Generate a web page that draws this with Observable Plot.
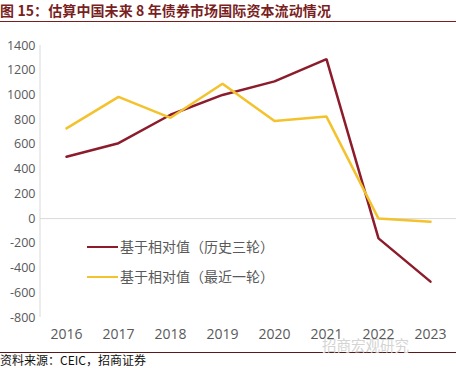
<!DOCTYPE html>
<html>
<head>
<meta charset="utf-8">
<script src="https://cdn.jsdelivr.net/npm/d3@7"></script>
<script src="https://cdn.jsdelivr.net/npm/@observablehq/plot@0.6"></script>
<style>
  html, body { margin: 0; padding: 0; background: #fff; }
  #wrap { position: relative; width: 456px; height: 368px; overflow: hidden; font-family: "Noto Sans CJK SC", sans-serif; }
  #title { height: 21px; border-bottom: 1px solid #7a1f1f; color: #7a1f1f; font-weight: 700; font-size: 14px; line-height: 21px; white-space: nowrap; letter-spacing: 0.1px; }
  #footer { border-top: 1.5px solid #5a1a1a; font-size: 12px; line-height: 14px; color: #111; white-space: nowrap; padding-top: 0; }
  .leg { position: absolute; left: 87px; font-size: 14px; color: #595959; white-space: nowrap; line-height: 16px; }
  .leg span.sw { display: inline-block; width: 31px; height: 2.5px; vertical-align: middle; margin-right: 2px; position: relative; top: -1px; }
  #wm { position: absolute; left: 322px; top: 337px; font-size: 14.5px; line-height: 15px; color: #d4d4d4; white-space: nowrap; }
</style>
</head>
<body>
<div id="wrap">
  <div id="title">图 15：估算中国未来 8 年债券市场国际资本流动情况</div>
  <div id="chart"></div>
  <div id="footer">资料来源：CEIC，招商证券</div>
  <div class="leg" id="leg1" style="top:238px"></div>
  <div class="leg" id="leg2" style="top:268px"></div>
  <div id="wm">招商宏观研究</div>
</div>
<script>
const years = ["2016", "2017", "2018", "2019", "2020", "2021", "2022", "2023"];
const seriesNames = ["基于相对值（历史三轮）", "基于相对值（最近一轮）"];
const historical = [500, 610, 840, 1000, 1110, 1290, -160, -510];
const recent = [730, 985, 815, 1090, 790, 825, 0, -25];
const yTicks = [-800, -600, -400, -200, 0, 200, 400, 600, 800, 1000, 1200, 1400];
const colors = ["#8c1c2b", "#f3c22c"];

const data = [];
years.forEach((y, i) => {
  data.push({year: y, value: historical[i], series: seriesNames[0]});
  data.push({year: y, value: recent[i], series: seriesNames[1]});
});

const axisLine = (index, scales, values, dims) => {
  const ns = "http://www.w3.org/2000/svg";
  const l = document.createElementNS(ns, "line");
  l.setAttribute("x1", dims.marginLeft);
  l.setAttribute("x2", dims.marginLeft);
  l.setAttribute("y1", scales.y(1400));
  l.setAttribute("y2", scales.y(-800));
  l.setAttribute("stroke", "#d9d9d9");
  l.setAttribute("stroke-width", 1);
  return l;
};

const chart = Plot.plot({
  width: 456,
  height: 330,
  marginLeft: 40,
  marginRight: 0,
  marginTop: 23,
  marginBottom: 35,
  style: {background: "transparent", color: "#595959", fontFamily: "'Open Sans', sans-serif"},
  x: {type: "point", domain: years, padding: 0.5},
  y: {domain: [-800, 1400]},
  color: {domain: seriesNames, range: colors},
  marks: [
    Plot.ruleY([0], {stroke: "#d9d9d9", strokeWidth: 1}),
    axisLine,
    Plot.axisY({ticks: yTicks, tickSize: 0, tickPadding: 5, tickFormat: d => String(d), fontSize: 12.5, label: null}),
    Plot.axisX({tickSize: 0, tickPadding: 12, fontSize: 14, label: null}),
    Plot.line(data, {x: "year", y: "value", z: "series", stroke: "series", strokeWidth: 2.5, strokeLinejoin: "miter"})
  ]
});
document.getElementById("chart").appendChild(chart);

document.getElementById("leg1").innerHTML = `<span class="sw" style="background:${colors[0]}"></span>${seriesNames[0]}`;
document.getElementById("leg2").innerHTML = `<span class="sw" style="background:${colors[1]}"></span>${seriesNames[1]}`;
</script>
</body>
</html>
